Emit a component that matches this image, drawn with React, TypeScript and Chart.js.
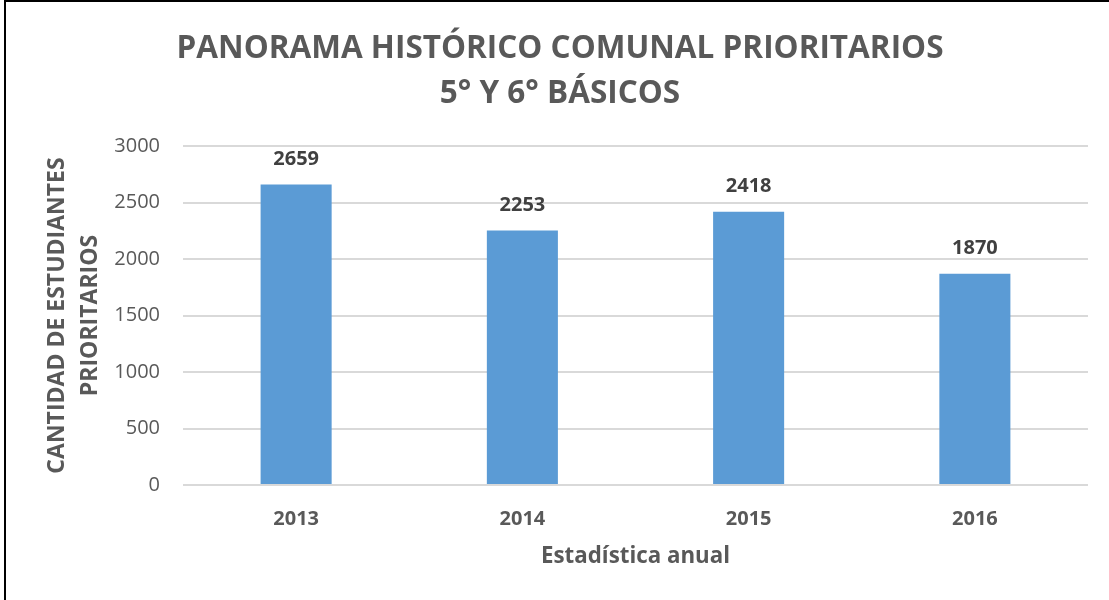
import React, { useEffect, useRef } from "react";
import { Chart, registerables } from "chart.js";

Chart.register(...registerables);

const categories = ["2013", "2014", "2015", "2016"];
const values = [2659, 2253, 2418, 1870];
const titleLines = ["PANORAMA HISTÓRICO COMUNAL PRIORITARIOS", "5° Y 6° BÁSICOS"];
const yTitleLines = ["CANTIDAD DE ESTUDIANTES", "PRIORITARIOS"];
const xTitle = "Estadística anual";

const FONT = "'Open Sans', sans-serif";

const CANVAS_W = 1108;
const CANVAS_H = 598;

const valueLabels = {
  id: "valueLabels",
  afterDatasetsDraw(chart: any) {
    const ctx = chart.ctx;
    const meta = chart.getDatasetMeta(0);
    ctx.save();
    ctx.font = `bold 20px ${FONT}`;
    ctx.fillStyle = "#404040";
    ctx.textAlign = "center";
    ctx.textBaseline = "middle";
    meta.data.forEach((bar: any, i: number) => {
      ctx.fillText(String(values[i]), bar.x, bar.y - 25);
    });
    ctx.restore();
  },
};

export default function App() {
  const ref = useRef<HTMLCanvasElement>(null);

  useEffect(() => {
    if (!ref.current) return;
    const chart = new Chart(ref.current, {
      type: "bar",
      data: {
        labels: categories,
        datasets: [
          {
            data: values,
            backgroundColor: "#5b9bd5",
            categoryPercentage: 1,
            barPercentage: 0.314,
          },
        ],
      },
      options: {
        animation: false,
        responsive: false,
        layout: { padding: 0 },
        plugins: {
          legend: { display: false },
          tooltip: { enabled: false },
          title: {
            display: true,
            text: titleLines,
            color: "#595959",
            font: { family: FONT, size: 31.5, weight: "bold", lineHeight: "45px" },
            padding: { top: 24.5, bottom: 29.5 },
          },
        },
        scales: {
          x: {
            grid: { display: false, drawTicks: false },
            border: { display: false },
            ticks: {
              color: "#595959",
              font: { family: FONT, size: 20, weight: "bold" },
              padding: 22,
            },
            title: {
              display: true,
              text: xTitle,
              color: "#595959",
              font: { family: FONT, size: 22.3, weight: "bold", lineHeight: 1.2 },
              padding: { top: 0, bottom: 30 },
            },
            afterFit(scale: any) {
              scale.height = 115;
            },
          },
          y: {
            min: 0,
            max: 3000,
            grid: { color: "#d9d9d9", lineWidth: 2, drawTicks: false },
            border: { display: false },
            ticks: {
              stepSize: 500,
              color: "#595959",
              font: { family: FONT, size: 20 },
              padding: 23,
              callback: (v: any) => String(v),
            },
            title: {
              display: true,
              text: yTitleLines,
              color: "#595959",
              font: { family: FONT, size: 23, weight: "bold", lineHeight: "33px" },
              padding: { top: 34.5, bottom: 0 },
            },
            afterFit(scale: any) {
              scale.width = 177;
            },
          },
          yRight: {
            type: "linear",
            position: "right",
            min: 0,
            max: 3000,
            grid: { display: false, drawTicks: false },
            border: { display: false },
            ticks: { display: false },
            afterFit(scale: any) {
              scale.width = 26;
            },
          },
        },
      },
      plugins: [valueLabels],
    });
    return () => chart.destroy();
  }, []);

  return (
    <div style={{ position: "fixed", inset: 0, overflow: "hidden", background: "#fff" }}>
      <div
        style={{
          position: "absolute",
          left: 4,
          top: 0,
          width: 1200,
          height: 700,
          borderLeft: "2px solid #000",
          borderTop: "2px solid #000",
          background: "#fff",
        }}
      >
        <canvas
          ref={ref}
          width={CANVAS_W}
          height={CANVAS_H}
          style={{ display: "block", width: CANVAS_W, height: CANVAS_H }}
        />
      </div>
    </div>
  );
}
